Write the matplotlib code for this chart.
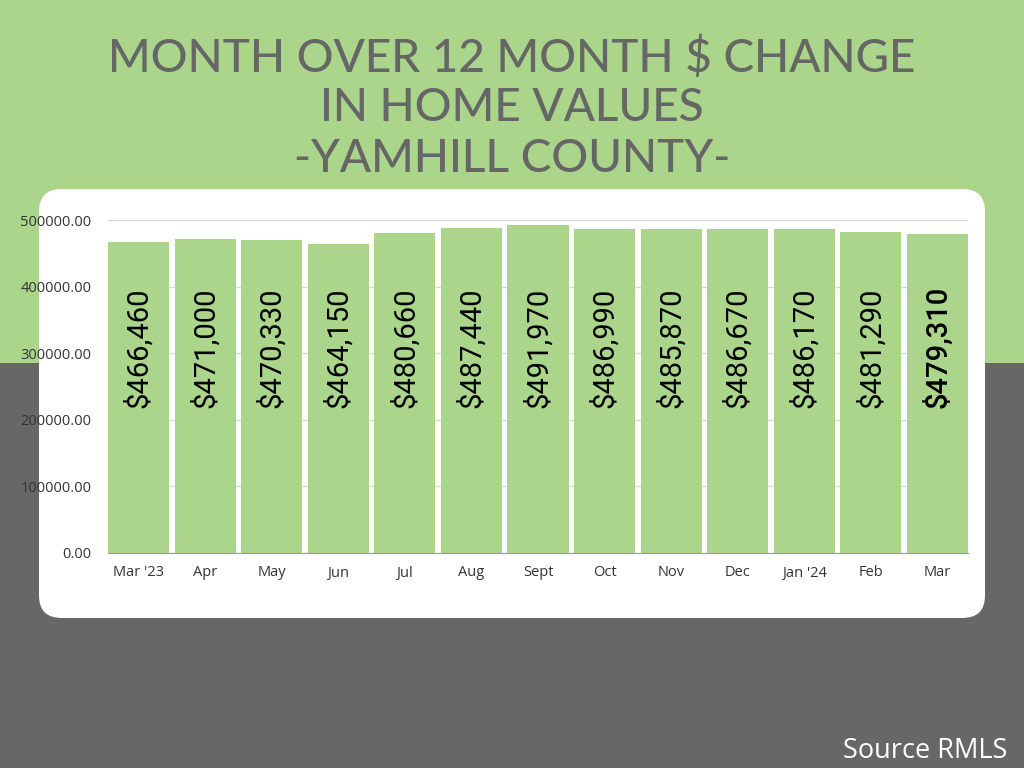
import matplotlib
matplotlib.use("Agg")
import matplotlib.pyplot as plt
from matplotlib.patches import FancyBboxPatch, Rectangle

months = ["Mar '23", "Apr", "May", "Jun", "Jul", "Aug", "Sept", "Oct", "Nov", "Dec", "Jan '24", "Feb", "Mar"]
values = [466460, 471000, 470330, 464150, 480660, 487440, 491970, 486990, 485870, 486670, 486170, 481290, 479310]
labels = ["$466,460", "$471,000", "$470,330", "$464,150", "$480,660", "$487,440", "$491,970",
          "$486,990", "$485,870", "$486,670", "$486,170", "$481,290", "$479,310"]
yticks = [0, 100000, 200000, 300000, 400000, 500000]

GREEN = "#aad58b"
GRAY = "#676767"
W, H = 1024, 768

fig = plt.figure(figsize=(W/100, H/100), dpi=100)
fig.patch.set_facecolor(GRAY)

# background bands
fig.patches.append(Rectangle((0, 1 - 363/H), 1, 363/H, transform=fig.transFigure,
                             facecolor=GREEN, edgecolor='none', zorder=-3))
# white panel
px0, px1, py0, py1 = 39, 985, 189, 618
fig.patches.append(FancyBboxPatch((px0/W, 1 - py1/H), (px1-px0)/W, (py1-py0)/H,
                                  boxstyle="round,pad=0,rounding_size=0.022",
                                  transform=fig.transFigure, facecolor="white",
                                  edgecolor='none', zorder=-2, mutation_aspect=W/H))

for yy, line in [(58, "MONTH OVER 12 MONTH $ CHANGE"), (108, "IN HOME VALUES"), (159, "-YAMHILL COUNTY-")]:
    fig.text(0.5, 1 - yy/H, line, ha='center', va='center',
             fontsize=33, color="#666666", family="Lato", fontweight='medium')

ax = fig.add_axes([108/W, 1 - 553/H, (968-108)/W, (553-220)/H])
ax.set_facecolor('none')
x = list(range(len(months)))
ax.bar(x, values, width=0.92, color=GREEN, zorder=3)
ax.set_xlim(-0.46, len(months) - 1 + 0.46)
ax.set_ylim(0, 500000)
ax.set_yticks(yticks)
ax.set_yticklabels([f"{v:.2f}" for v in yticks])
ax.set_xticks(x)
ax.set_xticklabels(months)
ax.tick_params(axis='both', length=0, colors="#333333", labelsize=10.5)
ax.tick_params(axis='y', pad=12)
ax.tick_params(axis='x', pad=9)
for lab in ax.get_xticklabels() + ax.get_yticklabels():
    lab.set_family("Open Sans")
    lab.set_fontweight('medium')
ax.grid(axis='y', color="#d9d9d9", linewidth=1, zorder=0)
for s in ["top", "right", "left"]:
    ax.spines[s].set_visible(False)
ax.spines["bottom"].set_color("#999999")
ax.spines["bottom"].set_zorder(4)

for i, (v, lab) in enumerate(zip(values, labels)):
    ax.text(i, 218000, lab, rotation=90, ha='center', va='bottom', fontsize=21,
            family="Roboto", color="black", zorder=5,
            fontweight='medium' if i == len(values) - 1 else 'normal')

fig.text(1 - 17/W, 1 - 751/H, "Source RMLS", ha='right', va='center', fontsize=19.5,
         color="white", family="Open Sans")

fig.savefig("out.png", dpi=100, facecolor=fig.get_facecolor())
